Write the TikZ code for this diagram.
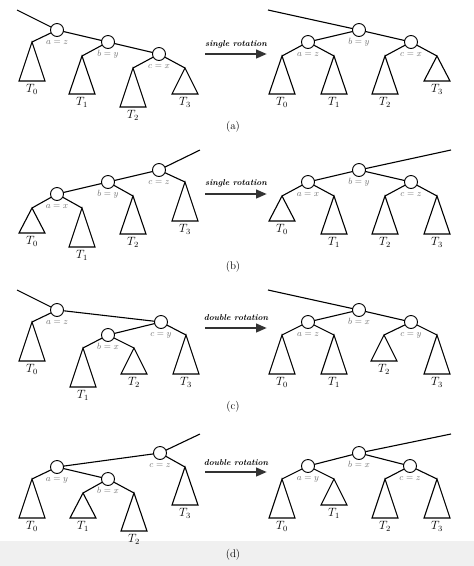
\documentclass[tikz,border=0pt]{standalone}
\usetikzlibrary{arrows.meta}
\definecolor{labgray}{HTML}{6E6E6E}
\definecolor{arrgray}{HTML}{333333}
\tikzset{
  tnode/.style={circle,draw=black,fill=white,line width=0.9pt,minimum size=13pt,inner sep=0pt},
  nlab/.style={anchor=base,text=labgray,inner sep=0pt,font=\fontsize{9}{10}\selectfont},
  tlab/.style={anchor=north,inner sep=0pt,font=\fontsize{12}{14}\selectfont},
  tri/.style={draw=black,line width=1.1pt,line join=miter},
  edge/.style={draw=black,line width=1.1pt},
  rottext/.style={inner sep=0pt,font=\fontsize{8.5}{10}\selectfont\bfseries\itshape},
  rotarr/.style={draw=arrgray,line width=2.6pt,-{Triangle[length=11pt,width=8.5pt]}},
  plab/.style={inner sep=0pt,font=\fontsize{11}{13}\selectfont}
}
\newcommand\treenode[3]{%
  \node[tnode] (#1) at (#2) {};
  \path (#1.center) ++(0,14.5) node[nlab] (#1-l) {$#3$};}
\newcommand\subtree[4]{%
  \coordinate (#1) at (#2);
  \draw[tri] (#1) -- ++(-13,#3) -- ++(26,0) -- cycle;
  \path (#1) ++(0,#3+3) node[tlab] (#1-l) {$T_{#4}$};}
\newcommand\rotarrow[4]{%
  \node[rottext] (#1-t) at (236,#2) {#4};
  \coordinate (#1-s) at (205,#3);
  \coordinate (#1-e) at (267,#3);
  \draw[rotarr] (#1-s) -- (#1-e);}
\begin{document}
\begin{tikzpicture}[x=1pt,y=-1pt]
\useasboundingbox (0,0) rectangle (474,566);
\fill[black!6] (0,541) rectangle (474,566);

% ---------- (a) ----------
\coordinate (LAp) at (17,10);
\subtree{LAt0}{32,42}{39}{0}
\subtree{LAt1}{82,56}{38}{1}
\subtree{LAt2}{133,68}{39}{2}
\subtree{LAt3}{185,68}{26}{3}
\draw[edge] (LAp) -- (57,30);
\draw[edge] (57,30) -- (LAt0);
\draw[edge] (57,30) -- (108,42);
\draw[edge] (108,42) -- (LAt1);
\draw[edge] (108,42) -- (159,54);
\draw[edge] (159,54) -- (LAt2);
\draw[edge] (159,54) -- (LAt3);
\treenode{LAa}{57,30}{a=z}
\treenode{LAb}{108,42}{b=y}
\treenode{LAc}{159,54}{c=x}

\coordinate (RAp) at (268,10);
\subtree{RAt0}{282,56}{38}{0}
\subtree{RAt1}{334,56}{38}{1}
\subtree{RAt2}{385,56}{38}{2}
\subtree{RAt3}{437,56}{25}{3}
\draw[edge] (RAp) -- (359,30);
\draw[edge] (359,30) -- (308,42);
\draw[edge] (359,30) -- (411,42);
\draw[edge] (308,42) -- (RAt0);
\draw[edge] (308,42) -- (RAt1);
\draw[edge] (411,42) -- (RAt2);
\draw[edge] (411,42) -- (RAt3);
\treenode{RAb}{359,30}{b=y}
\treenode{RAa}{308,42}{a=z}
\treenode{RAc}{411,42}{c=x}

\rotarrow{ArA}{44}{54}{single rotation}
\node[plab] (capA) at (233,127) {(a)};

% ---------- (b) ----------
\coordinate (LBp) at (200,150);
\subtree{LBt0}{32,208}{25}{0}
\subtree{LBt1}{82,208}{39}{1}
\subtree{LBt2}{133,196}{38}{2}
\subtree{LBt3}{185,182}{39}{3}
\draw[edge] (LBp) -- (159,170);
\draw[edge] (159,170) -- (108,182);
\draw[edge] (108,182) -- (57,194);
\draw[edge] (57,194) -- (LBt0);
\draw[edge] (57,194) -- (LBt1);
\draw[edge] (108,182) -- (LBt2);
\draw[edge] (159,170) -- (LBt3);
\treenode{LBa}{57,194}{a=x}
\treenode{LBb}{108,182}{b=y}
\treenode{LBc}{159,170}{c=z}

\coordinate (RBp) at (451,150);
\subtree{RBt0}{282,196}{25}{0}
\subtree{RBt1}{334,196}{38}{1}
\subtree{RBt2}{385,196}{38}{2}
\subtree{RBt3}{437,196}{38}{3}
\draw[edge] (RBp) -- (359,170);
\draw[edge] (359,170) -- (308,182);
\draw[edge] (359,170) -- (411,182);
\draw[edge] (308,182) -- (RBt0);
\draw[edge] (308,182) -- (RBt1);
\draw[edge] (411,182) -- (RBt2);
\draw[edge] (411,182) -- (RBt3);
\treenode{RBb}{359,170}{b=y}
\treenode{RBa}{308,182}{a=x}
\treenode{RBc}{411,182}{c=z}

\rotarrow{ArB}{183}{194}{single rotation}
\node[plab] (capB) at (233,267) {(b)};

% ---------- (c) ----------
\coordinate (LCp) at (17,290);
\subtree{LCt0}{32,322}{39}{0}
\subtree{LCt1}{83,348}{39}{1}
\subtree{LCt2}{134,348}{26}{2}
\subtree{LCt3}{186,335}{39}{3}
\draw[edge] (LCp) -- (57,310);
\draw[edge] (57,310) -- (LCt0);
\draw[edge] (57,310) -- (161,322);
\draw[edge] (161,322) -- (108,335);
\draw[edge] (161,322) -- (LCt3);
\draw[edge] (108,335) -- (LCt1);
\draw[edge] (108,335) -- (LCt2);
\treenode{LCa}{57,310}{a=z}
\treenode{LCc}{161,322}{c=y}
\treenode{LCb}{108,335}{b=x}

\coordinate (RCp) at (268,290);
\subtree{RCt0}{282,335}{39}{0}
\subtree{RCt1}{334,335}{39}{1}
\subtree{RCt2}{384,335}{26}{2}
\subtree{RCt3}{437,335}{39}{3}
\draw[edge] (RCp) -- (359,310);
\draw[edge] (359,310) -- (308,322);
\draw[edge] (359,310) -- (411,322);
\draw[edge] (308,322) -- (RCt0);
\draw[edge] (308,322) -- (RCt1);
\draw[edge] (411,322) -- (RCt2);
\draw[edge] (411,322) -- (RCt3);
\treenode{RCb}{359,310}{b=x}
\treenode{RCa}{308,322}{a=z}
\treenode{RCc}{411,322}{c=y}

\rotarrow{ArC}{318}{328}{double rotation}
\node[plab] (capC) at (233,407) {(c)};

% ---------- (d) ----------
\coordinate (LDp) at (200,434);
\subtree{LDt0}{32,479}{39}{0}
\subtree{LDt1}{83,493}{25}{1}
\subtree{LDt2}{134,493}{38}{2}
\subtree{LDt3}{185,467}{38}{3}
\draw[edge] (LDp) -- (160,453);
\draw[edge] (160,453) -- (57,467);
\draw[edge] (57,467) -- (108,479);
\draw[edge] (57,467) -- (LDt0);
\draw[edge] (108,479) -- (LDt1);
\draw[edge] (108,479) -- (LDt2);
\draw[edge] (160,453) -- (LDt3);
\treenode{LDc}{160,453}{c=z}
\treenode{LDa}{57,467}{a=y}
\treenode{LDb}{108,479}{b=x}

\coordinate (RDp) at (451,434);
\subtree{RDt0}{282,479}{39}{0}
\subtree{RDt1}{334,479}{26}{1}
\subtree{RDt2}{385,479}{39}{2}
\subtree{RDt3}{437,479}{39}{3}
\draw[edge] (RDp) -- (359,453);
\draw[edge] (359,453) -- (308,466);
\draw[edge] (359,453) -- (410,466);
\draw[edge] (308,466) -- (RDt0);
\draw[edge] (308,466) -- (RDt1);
\draw[edge] (410,466) -- (RDt2);
\draw[edge] (410,466) -- (RDt3);
\treenode{RDb}{359,453}{b=x}
\treenode{RDa}{308,466}{a=y}
\treenode{RDc}{410,466}{c=z}

\rotarrow{ArD}{463}{472}{double rotation}
\node[plab] (capD) at (233,555) {(d)};
\end{tikzpicture}
\end{document}
